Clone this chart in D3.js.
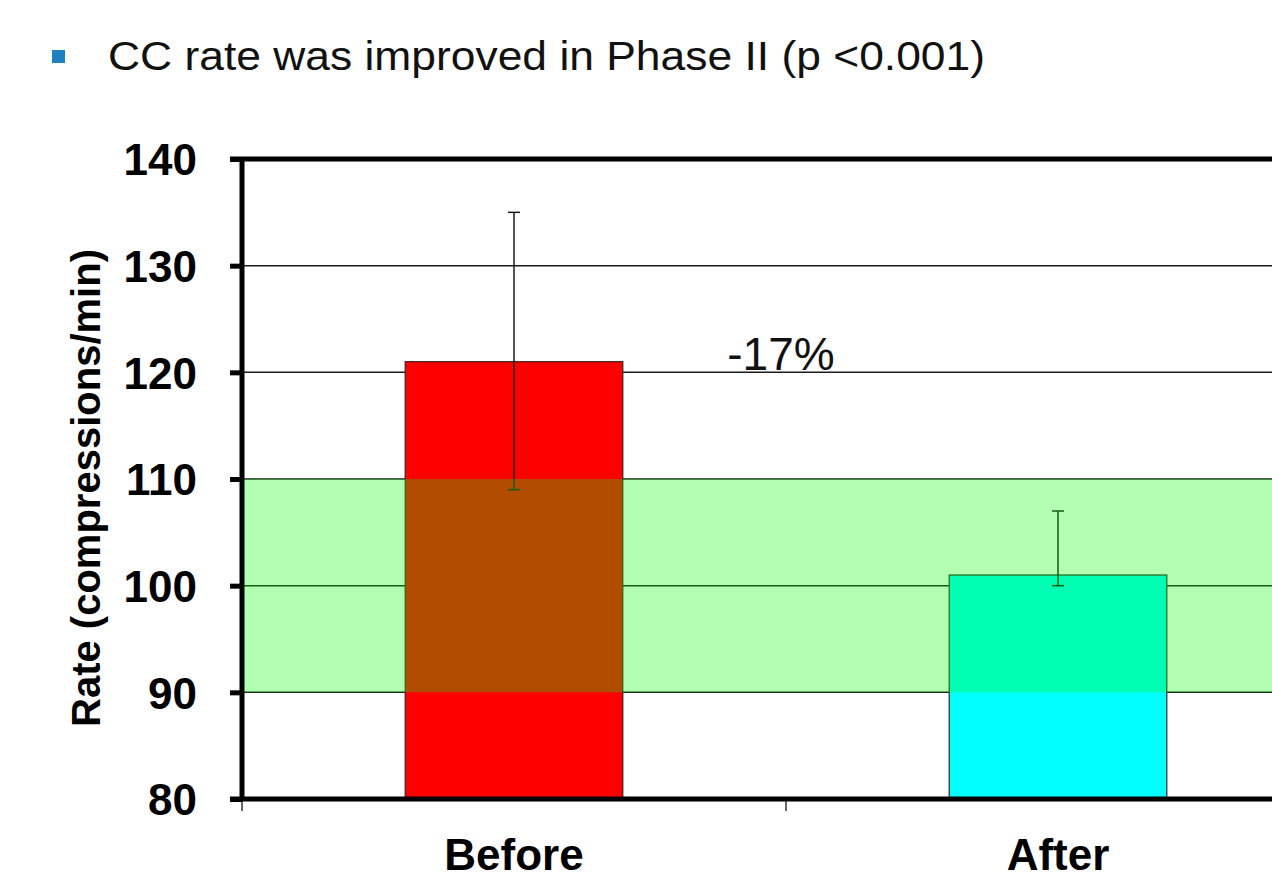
<!DOCTYPE html>
<html>
<head>
<meta charset="utf-8">
<script src="https://cdn.jsdelivr.net/npm/d3@7"></script>
<style>
  html, body { margin: 0; padding: 0; background: #ffffff; overflow: hidden; }
  svg { display: block; font-family: "Liberation Sans", Arial, sans-serif; }
</style>
</head>
<body>
<svg id="chart" width="1272" height="879"></svg>
<script>
// ---- data ----
const categories = ["Before", "After"];
const meanRate = [121, 101];
const errLow = [109, 100];
const errHigh = [135, 107];
const yTicks = [80, 90, 100, 110, 120, 130, 140];
const targetRange = [90, 110];
const changeLabel = "-17%";
const titleText = "CC rate was improved in Phase II (p <0.001)";
const yAxisTitle = "Rate (compressions/min)";

// ---- styles ----
const barColors = ["#ff0000", "#00ffff"];

const svg = d3.select("#chart");
const plotLeft = 242, plotTop = 159, plotBottom = 799;
const plotRight = 1330; // plot continues past the visible edge

const x = d3.scaleBand()
  .domain(categories)
  .range([plotLeft, plotRight])
  .paddingInner(0.6)
  .paddingOuter(0.3);

const y = d3.scaleLinear().domain([80, 140]).range([plotBottom, plotTop]);

// title with bullet
svg.append("rect").attr("x", 52).attr("y", 50).attr("width", 13).attr("height", 13)
  .attr("fill", "#1f80c0");
svg.append("text").attr("x", 108).attr("y", 70)
  .attr("font-size", 40).attr("fill", "#111")
  .attr("textLength", 877).attr("lengthAdjust", "spacingAndGlyphs")
  .text(titleText);

// gridlines
svg.append("g").selectAll("line")
  .data(yTicks.filter(d => d > 80 && d < 140))
  .join("line")
  .attr("x1", plotLeft).attr("x2", plotRight)
  .attr("y1", d => y(d)).attr("y2", d => y(d))
  .attr("stroke", "#1a1a1a").attr("stroke-width", 1.5);

// bars
svg.append("g").selectAll("rect")
  .data(categories)
  .join("rect")
  .attr("x", d => x(d))
  .attr("width", x.bandwidth())
  .attr("y", (d, i) => y(meanRate[i]))
  .attr("height", (d, i) => y(80) - y(meanRate[i]))
  .attr("fill", (d, i) => barColors[i])
  .attr("stroke", "#3a2020").attr("stroke-width", 1.2);

// error bars
const eb = svg.append("g").attr("stroke", "#1a1a1a").attr("stroke-width", 1.5);
categories.forEach((c, i) => {
  const cx = x(c) + x.bandwidth() / 2;
  eb.append("line").attr("x1", cx).attr("x2", cx)
    .attr("y1", y(errLow[i])).attr("y2", y(errHigh[i]));
  [errLow[i], errHigh[i]].forEach(v => {
    eb.append("line").attr("x1", cx - 6).attr("x2", cx + 6)
      .attr("y1", y(v)).attr("y2", y(v));
  });
});

// target band
svg.append("rect")
  .attr("x", plotLeft).attr("width", plotRight - plotLeft)
  .attr("y", y(targetRange[1]))
  .attr("height", y(targetRange[0]) - y(targetRange[1]))
  .attr("fill", "#00ff00").attr("fill-opacity", 0.3);

// annotation
svg.append("text")
  .attr("x", (x(categories[0]) + x(categories[1]) + x.bandwidth()) / 2 - 5)
  .attr("y", y(120) - 2)
  .attr("text-anchor", "middle")
  .attr("font-size", 46).attr("fill", "#111").text(changeLabel);

// y axis
const yAxis = d3.axisLeft(y).tickValues(yTicks).tickSize(12).tickPadding(33);
const gy = svg.append("g").attr("transform", `translate(${plotLeft},0)`).call(yAxis);
gy.select(".domain").attr("stroke", "#000").attr("stroke-width", 5)
  .attr("d", `M0,${plotTop}V${plotBottom}`);
gy.selectAll(".tick line").attr("stroke", "#000").attr("stroke-width", 5);
gy.selectAll(".tick text").attr("font-size", 44).attr("font-weight", "bold")
  .attr("fill", "#000").attr("font-family", "'Liberation Sans', Arial, sans-serif")
  .attr("dy", "0.36em");

// top border
svg.append("line").attr("x1", plotLeft - 12).attr("x2", plotRight)
  .attr("y1", plotTop).attr("y2", plotTop).attr("stroke", "#000").attr("stroke-width", 5);

// x axis
const gx = svg.append("g").attr("transform", `translate(0,${plotBottom})`);
gx.append("line").attr("x1", plotLeft - 12).attr("x2", plotRight)
  .attr("y1", 0).attr("y2", 0).attr("stroke", "#000").attr("stroke-width", 5);
const boundaries = [plotLeft, plotLeft + x.step(), plotRight];
gx.selectAll(".xt").data(boundaries).join("line").attr("class", "xt")
  .attr("x1", d => d).attr("x2", d => d).attr("y1", 0).attr("y2", 12)
  .attr("stroke", "#000").attr("stroke-width", 1.2);
gx.selectAll(".xl").data(categories).join("text").attr("class", "xl")
  .attr("x", d => x(d) + x.bandwidth() / 2)
  .attr("y", 71)
  .attr("text-anchor", "middle")
  .attr("font-size", 44).attr("font-weight", "bold").attr("fill", "#000")
  .text(d => d);

// y title
svg.append("text")
  .attr("transform", `translate(100,488) rotate(-90)`)
  .attr("text-anchor", "middle")
  .attr("font-size", 40).attr("font-weight", "bold").attr("fill", "#000")
  .text(yAxisTitle);
</script>
</body>
</html>
